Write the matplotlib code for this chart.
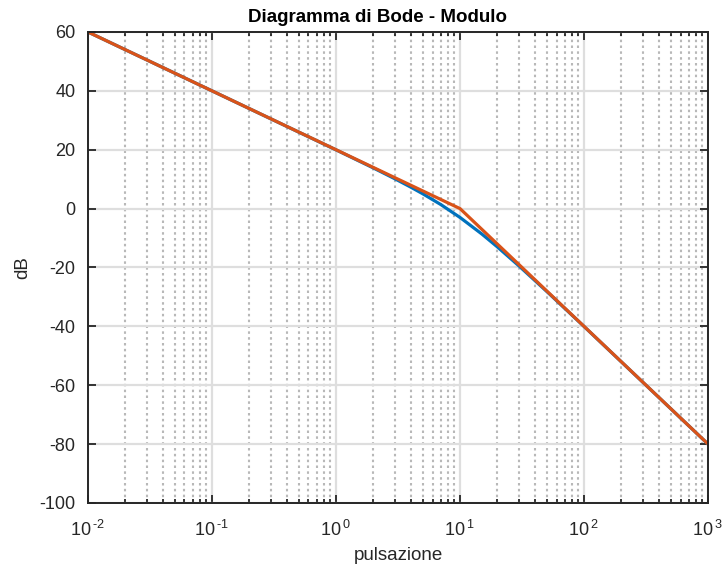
import math

import matplotlib
matplotlib.use("Agg")
import matplotlib.pyplot as plt
import matplotlib.ticker as mticker

# exact magnitude
omega = [0.01, 0.1, 1, 2, 3, 4, 5, 7, 10, 15, 20, 30, 50, 100, 1000]
mag_db = [60, 40, 19.96, 13.81, 10.08, 7.31, 5.05, 1.37, -3.01, -8.64,
          -13.01, -19.54, -28.13, -40.04, -80.0]

# asymptotic approximation (orange)
omega_asym = [0.01, 10, 1000]
mag_asym = [60, 0, -80]

y_ticks = [-100, -80, -60, -40, -20, 0, 20, 40, 60]

BLUE = "#0072bd"
ORANGE = "#d95319"
TEXT = "#262626"

plt.rcParams["font.family"] = ["Liberation Sans", "DejaVu Sans"]
plt.rcParams["axes.unicode_minus"] = False
plt.rcParams["mathtext.fontset"] = "custom"
plt.rcParams["mathtext.rm"] = "Liberation Sans"
plt.rcParams["mathtext.it"] = "Liberation Sans"


def decade_label(v, pos):
    exp = int(round(math.log10(v)))
    sup = ("\u2010%d" % -exp) if exp < 0 else str(exp)
    return "10$\\,^{\\mathrm{%s}}$" % sup


fig = plt.figure(figsize=(7.24, 5.67), dpi=100)
ax = fig.add_axes([0.1215, 0.1129, 0.8565, 0.8307])

ax.semilogx(omega, mag_db, color=BLUE, linewidth=2.3)
ax.semilogx(omega_asym, mag_asym, color=ORANGE, linewidth=2.3)

ax.set_xlim(1e-2, 1e3)
ax.set_ylim(-100, 60)
ax.set_yticks(y_ticks)
ax.set_yticklabels([str(v) for v in y_ticks])
ax.xaxis.set_major_locator(mticker.LogLocator(base=10, numticks=10))
ax.xaxis.set_minor_locator(mticker.LogLocator(base=10, subs=range(2, 10), numticks=20))
ax.xaxis.set_minor_formatter(mticker.NullFormatter())
ax.xaxis.set_major_formatter(mticker.FuncFormatter(decade_label))

ax.grid(which="major", color="#dedede", linewidth=1.6, linestyle="-")
ax.grid(which="minor", color="#b8b8b8", linewidth=1.5, linestyle=(0, (1.2, 1.6)))
ax.set_axisbelow(True)

ax.tick_params(which="both", direction="in", top=True, right=True,
               colors=TEXT, labelsize=13, width=1.3)
ax.tick_params(which="major", length=6)
ax.tick_params(which="minor", length=3)
ax.tick_params(axis="y", pad=9)
ax.tick_params(axis="x", pad=12)
for sp in ax.spines.values():
    sp.set_color(TEXT)
    sp.set_linewidth(1.4)

# title sits a little left of the axes centre in the original
fig.text(377 / 724, 1 - 18 / 567, "Diagramma di Bode - Modulo", fontsize=13.5,
         fontweight="bold", color="black", ha="center", va="center")
ax.set_xlabel("pulsazione", fontsize=13.5, color=TEXT, labelpad=5)
ax.set_ylabel("dB", fontsize=13.5, color=TEXT, labelpad=6)

fig.savefig("out.png", dpi=100, facecolor="white")
